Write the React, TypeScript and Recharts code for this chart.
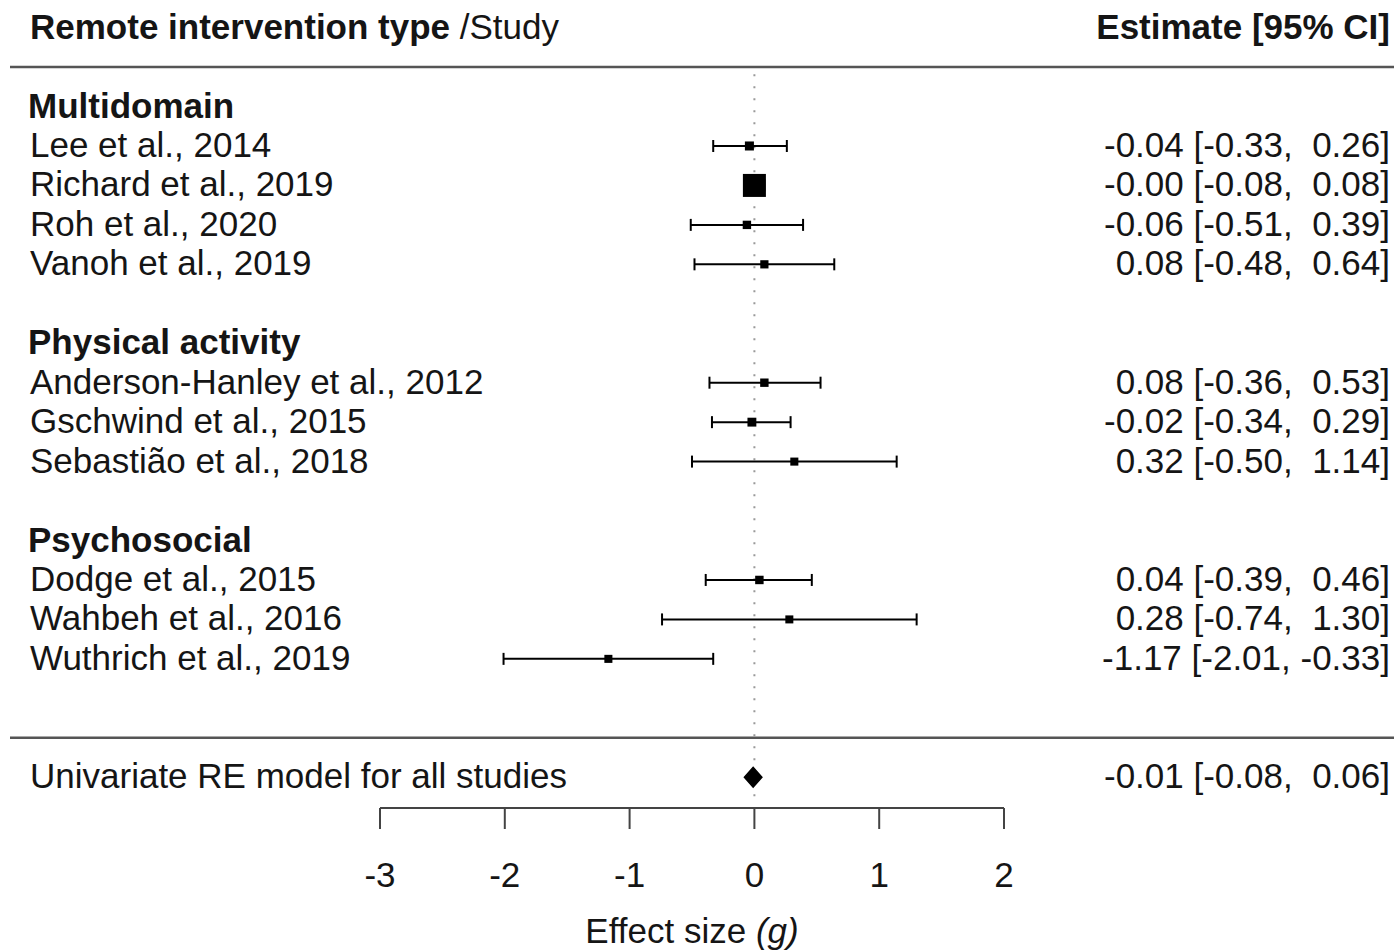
import React from "react";
import { ComposedChart, Scatter, XAxis, YAxis, ReferenceLine, ErrorBar } from "recharts";

// forest plot data
const groupNames = ["Multidomain", "Physical activity", "Psychosocial"];
const studyNames = [
  "Lee et al., 2014",
  "Richard et al., 2019",
  "Roh et al., 2020",
  "Vanoh et al., 2019",
  "Anderson-Hanley et al., 2012",
  "Gschwind et al., 2015",
  "Sebastião et al., 2018",
  "Dodge et al., 2015",
  "Wahbeh et al., 2016",
  "Wuthrich et al., 2019",
];
const studyGroup = [0, 0, 0, 0, 1, 1, 1, 2, 2, 2];
const estimates = [-0.04, -0.0, -0.06, 0.08, 0.08, -0.02, 0.32, 0.04, 0.28, -1.17];
const ciLower = [-0.33, -0.08, -0.51, -0.48, -0.36, -0.34, -0.5, -0.39, -0.74, -2.01];
const ciUpper = [0.26, 0.08, 0.39, 0.64, 0.53, 0.29, 1.14, 0.46, 1.3, -0.33];
const pooledLabel = "Univariate RE model for all studies";
const pooledEst = -0.01;
const pooledLower = -0.08;
const pooledUpper = 0.06;
const xTicks = [-3, -2, -1, 0, 1, 2];

// layout
const W = 1394;
const H = 952;
const LEFT = 10;
const X_MIN = -5.9647;
const X_MAX = 5.125;
const Y_MIN = -3.7;
const Y_MAX = 20.43;
const AXIS_ROW = 16.78;
const FONT = "'Liberation Sans', Arial, sans-serif";
const FS = 35;
const TEXT = "#151515";
const LABEL_X = 30;
const RIGHT_X = 1390;

const fmt = (v: number) => (Object.is(v, -0) ? "-" : "") + v.toFixed(2);
const pad = (v: number) => (v < 0 || Object.is(v, -0) ? "" : " ") + v.toFixed(2);
const ciText = (e: number, lo: number, hi: number) => `${fmt(e)} [${pad(lo)}, ${pad(hi)}]`;

// row positions: heading, studies, blank line
const groupRows: number[] = [];
const studyRows: number[] = [];
let r = -1;
groupNames.forEach((_, gi) => {
  groupRows.push(r);
  r++;
  studyGroup.forEach((g, si) => {
    if (g === gi) {
      studyRows[si] = r;
      r++;
    }
  });
  r++;
});
const sepRow = r;
const pooledRow = r + 1;

const weights = estimates.map((_, i) => {
  const se = (ciUpper[i] - ciLower[i]) / 3.92;
  return 1 / (se * se);
});
const wMin = Math.min(...weights);
const wMax = Math.max(...weights);

const studyData = estimates.map((e, i) => ({
  x: e,
  row: studyRows[i],
  err: [e - ciLower[i], ciUpper[i] - e],
  side: 8 + (15 * (weights[i] - wMin)) / (wMax - wMin),
}));

const labelData = [
  ...groupNames.map((g, i) => ({ x: 0, row: groupRows[i], left: g, bold: true, right: "" })),
  ...studyNames.map((s, i) => ({
    x: 0,
    row: studyRows[i],
    left: s,
    bold: false,
    right: ciText(estimates[i], ciLower[i], ciUpper[i]),
  })),
  { x: 0, row: pooledRow, left: pooledLabel, bold: false, right: ciText(pooledEst, pooledLower, pooledUpper) },
];

const DIAMOND_H = 0.25;
const diamondData = [
  { x: pooledLower, row: pooledRow },
  { x: pooledEst, row: pooledRow - DIAMOND_H },
  { x: pooledUpper, row: pooledRow },
  { x: pooledEst, row: pooledRow + DIAMOND_H },
];

const tickData = xTicks.map((t) => ({ x: t, row: AXIS_ROW }));
const titleData = [{ x: (xTicks[0] + xTicks[xTicks.length - 1]) / 2, row: AXIS_ROW }];
const headerData = [{ x: 0, row: -3 }];

const SquareShape = (p: any) => {
  const s = p.payload.side;
  return <rect x={p.cx - s / 2} y={p.cy - s / 2} width={s} height={s} fill="#000" />;
};

const LabelShape = (p: any) => {
  const d = p.payload;
  return (
    <g>
      <text
        x={d.bold ? LABEL_X - 2 : LABEL_X}
        y={p.cy + 11}
        fontSize={FS}
        fontWeight={d.bold ? "bold" : "normal"}
        fill={TEXT}
        fontFamily={FONT}
      >
        {d.left}
      </text>
      {d.right && (
        <text
          x={RIGHT_X}
          y={p.cy + 11}
          fontSize={FS}
          textAnchor="end"
          fill={TEXT}
          fontFamily={FONT}
          style={{ whiteSpace: "pre" }}
        >
          {d.right}
        </text>
      )}
    </g>
  );
};

const HeaderShape = (p: any) => (
  <g fontFamily={FONT} fontSize={FS} fill={TEXT}>
    <text x={LABEL_X} y={p.cy + 11}>
      <tspan fontWeight="bold">Remote intervention type</tspan>
      <tspan> /Study</tspan>
    </text>
    <text x={RIGHT_X} y={p.cy + 11} textAnchor="end" fontWeight="bold">
      Estimate [95% CI]
    </text>
  </g>
);

const TickShape = (p: any) => (
  <g>
    <line x1={p.cx} y1={p.cy} x2={p.cx} y2={p.cy + 21} stroke="#444" strokeWidth={2} />
    <text x={p.cx} y={p.cy + 79} textAnchor="middle" fontSize={FS} fill={TEXT} fontFamily={FONT}>
      {p.payload.x}
    </text>
  </g>
);

const TitleShape = (p: any) => (
  <text x={p.cx} y={p.cy + 135} textAnchor="middle" fontSize={FS} fill={TEXT} fontFamily={FONT}>
    Effect size <tspan fontStyle="italic">(g)</tspan>
  </text>
);

const DiamondLine = (p: any) => (
  <polygon
    points={p.points.map((pt: any) => `${pt.x},${pt.y}`).join(" ")}
    fill="#000"
    stroke="#000"
    strokeWidth={1.5}
  />
);

const Empty = () => <g />;

export default function App() {
  return (
    <div style={{ position: "absolute", left: 0, top: 0, width: W, height: H, background: "#fff" }}>
      <ComposedChart width={W} height={H} margin={{ top: 0, right: 0, bottom: 0, left: LEFT }}>
        <XAxis type="number" dataKey="x" domain={[X_MIN, X_MAX]} allowDataOverflow hide />
        <YAxis type="number" dataKey="row" domain={[Y_MIN, Y_MAX]} allowDataOverflow reversed hide />
        <ReferenceLine y={-2} stroke="#555" strokeWidth={2.5} />
        <ReferenceLine y={sepRow} stroke="#555" strokeWidth={2.5} />
        <ReferenceLine
          segment={[
            { x: 0, y: -1.82 },
            { x: 0, y: 16.57 },
          ]}
          stroke="#999"
          strokeWidth={2}
          strokeDasharray="2 10"
        />
        <ReferenceLine
          segment={[
            { x: xTicks[0], y: AXIS_ROW },
            { x: xTicks[xTicks.length - 1], y: AXIS_ROW },
          ]}
          stroke="#444"
          strokeWidth={2}
        />
        <Scatter data={headerData} shape={HeaderShape} isAnimationActive={false} />
        <Scatter data={labelData} shape={LabelShape} isAnimationActive={false} />
        <Scatter data={studyData} shape={SquareShape} isAnimationActive={false}>
          <ErrorBar dataKey="err" direction="x" width={6} stroke="#000" strokeWidth={2} isAnimationActive={false} />
        </Scatter>
        <Scatter
          data={diamondData}
          shape={Empty}
          line={DiamondLine}
          lineType="joint"
          isAnimationActive={false}
        />
        <Scatter data={tickData} shape={TickShape} isAnimationActive={false} />
        <Scatter data={titleData} shape={TitleShape} isAnimationActive={false} />
      </ComposedChart>
    </div>
  );
}
